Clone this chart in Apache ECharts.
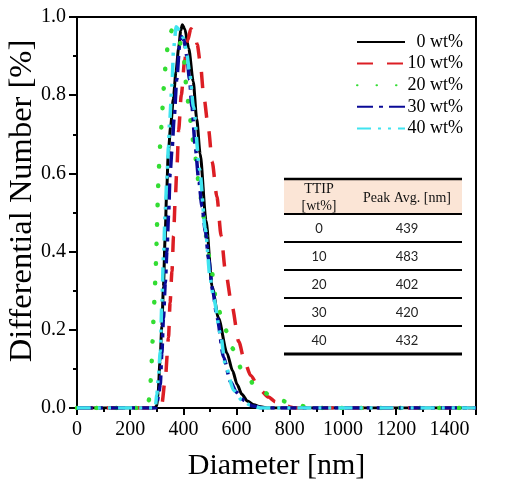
<!DOCTYPE html>
<html>
<head>
<meta charset="utf-8">
<script src="https://cdn.jsdelivr.net/npm/echarts@6/dist/echarts.min.js"></script>
<style>
html,body{margin:0;padding:0;background:#fff;}
#chart{width:525px;height:495px;}
</style>
</head>
<body>
<div id="chart"></div>
<script>
// Series names
const seriesNames = ['0 wt%', '10 wt%', '20 wt%', '30 wt%', '40 wt%'];

// 0 wt%
const d0 = [0, 290, 300, 305, 312, 319, 325, 331, 337, 343, 352, 362, 372, 382, 390, 396, 405, 420, 437, 450, 463, 485, 508, 532, 564, 585, 602, 620, 640, 665, 690, 720, 1500];
const v0 = [0, 0, 0.005, 0.04, 0.12, 0.21, 0.31, 0.43, 0.55, 0.65, 0.72, 0.79, 0.86, 0.92, 0.965, 0.98, 0.97, 0.92, 0.835, 0.74, 0.65, 0.48, 0.31, 0.23, 0.14, 0.095, 0.06, 0.035, 0.018, 0.008, 0.003, 0, 0];

// 10 wt%
const d10 = [0, 312, 319, 332, 344, 350, 357, 363, 369, 376, 382, 392, 405, 416, 428, 440, 452, 464, 476, 495, 508, 526, 542, 558, 583, 608, 630, 652, 690, 720, 746, 780, 820, 1500];
const v10 = [0, 0, 0.01, 0.077, 0.18, 0.27, 0.35, 0.44, 0.53, 0.62, 0.71, 0.80, 0.89, 0.94, 0.97, 0.96, 0.93, 0.88, 0.80, 0.71, 0.63, 0.54, 0.44, 0.35, 0.26, 0.17, 0.12, 0.084, 0.045, 0.028, 0.016, 0.006, 0, 0];

// 20 wt%
const d20 = [0, 262, 270, 276, 280, 284, 288, 292, 296, 299, 302, 304, 307, 311, 316, 320, 324, 329, 336, 345, 362, 382, 401, 410, 422, 434, 445, 457, 470, 485, 501, 527, 558, 583, 621, 683, 759, 828, 880, 1500];
const v20 = [0, 0, 0.02, 0.06, 0.11, 0.17, 0.23, 0.29, 0.36, 0.42, 0.49, 0.55, 0.60, 0.66, 0.71, 0.75, 0.80, 0.85, 0.90, 0.955, 0.97, 0.945, 0.90, 0.83, 0.76, 0.69, 0.64, 0.58, 0.52, 0.44, 0.37, 0.26, 0.20, 0.153, 0.097, 0.046, 0.02, 0.008, 0, 0];

// 30 wt%
const d30 = [0, 296, 300, 306, 313, 319, 325, 332, 338, 344, 350, 357, 365, 375, 386, 393, 402, 413, 423, 432, 445, 458, 470, 483, 495, 510, 527, 551, 577, 600, 627, 660, 700, 1500];
const v30 = [0, 0, 0.01, 0.03, 0.06, 0.14, 0.23, 0.32, 0.40, 0.49, 0.60, 0.66, 0.74, 0.84, 0.93, 0.95, 0.94, 0.90, 0.84, 0.77, 0.665, 0.58, 0.515, 0.45, 0.38, 0.30, 0.23, 0.13, 0.067, 0.04, 0.02, 0.005, 0, 0];

// 40 wt%
const d40 = [0, 294, 300, 306, 313, 319, 325, 332, 338, 344, 348, 357, 363, 373, 388, 401, 412, 423, 438, 461, 482, 501, 514, 539, 558, 589, 620, 650, 690, 1500];
const v40 = [0, 0, 0.033, 0.08, 0.144, 0.27, 0.387, 0.51, 0.59, 0.67, 0.73, 0.826, 0.92, 0.975, 0.965, 0.945, 0.91, 0.86, 0.77, 0.61, 0.46, 0.33, 0.28, 0.19, 0.11, 0.045, 0.02, 0.008, 0, 0];

// Inset table
const tableHeader = [['TTIP', '[wt%]'], ['Peak Avg. [nm]']];
const ttipValues = ['0', '10', '20', '30', '40'];
const peakAvg = ['439', '483', '402', '420', '432'];

// Axis titles
const xTitle = 'Diameter [nm]';
const yTitle = 'Differential Number [%]';

const xs = [d0, d10, d20, d30, d40];
const ys = [v0, v10, v20, v30, v40];
const colors = ['#000000', '#dc1e24', '#33dd33', '#0a0a96', '#40e4f0'];
const dashes = ['solid', [16, 14], [0.5, 19], [16, 6, 4, 6], [14, 7, 3, 7, 3, 7]];
const caps = ['butt', 'butt', 'round', 'butt', 'butt'];
const widths = [3, 3.5, 4.5, 3.5, 3.5];

const serif = 'Liberation Serif';

const series = seriesNames.map((name, k) => ({
  name: name,
  type: 'line',
  symbol: 'none',
  smooth: 0.25,
  smoothMonotone: 'x',
  data: xs[k].map((x, i) => [x, ys[k][i]]),
  lineStyle: { color: colors[k], width: widths[k], type: dashes[k], cap: caps[k] },
  itemStyle: { color: colors[k] },
  z: 2 + k
}));

// table graphics
const tX0 = 284, tX1 = 462, col1 = 319, col2 = 407;
const tTop = 179, headBottom = 214, rowH = 28;
const g = [];
g.push({ type: 'rect', shape: { x: tX0, y: tTop, width: tX1 - tX0, height: headBottom - tTop }, style: { fill: '#fbe5d6' }, z: 10 });
function hline(y, w) {
  g.push({ type: 'rect', shape: { x: tX0, y: y - w / 2, width: tX1 - tX0, height: w }, style: { fill: '#000' }, z: 11 });
}
hline(tTop, 2.5);
hline(headBottom, 2);
ttipValues.forEach((v, i) => {
  const yTop = headBottom + i * rowH;
  const cy = yTop + rowH / 2 + 1;
  g.push({ type: 'text', x: col1, y: cy, style: { text: v, font: '13px Lato', fill: '#222', align: 'center', verticalAlign: 'middle' }, z: 12 });
  g.push({ type: 'text', x: col2, y: cy, style: { text: peakAvg[i], font: '13px Lato', fill: '#222', align: 'center', verticalAlign: 'middle' }, z: 12 });
  hline(yTop + rowH, i === ttipValues.length - 1 ? 3 : 2);
});
g.push({ type: 'text', x: col1, y: 189, style: { text: tableHeader[0][0], font: '14px "Liberation Serif"', fill: '#111', align: 'center', verticalAlign: 'middle' }, z: 12 });
g.push({ type: 'text', x: col1, y: 206, style: { text: tableHeader[0][1], font: '14px "Liberation Serif"', fill: '#111', align: 'center', verticalAlign: 'middle' }, z: 12 });
g.push({ type: 'text', x: col2, y: 198, style: { text: tableHeader[1][0], font: '14px "Liberation Serif"', fill: '#111', align: 'center', verticalAlign: 'middle' }, z: 12 });
// y-axis title
g.push({ type: 'text', x: 22, y: 201, rotation: Math.PI / 2, style: { text: yTitle, font: '32.5px "Liberation Serif"', fill: '#000', align: 'center', verticalAlign: 'middle' }, z: 12 });

const chart = echarts.init(document.getElementById('chart'), null, { renderer: 'canvas' });
chart.setOption({
  animation: false,
  backgroundColor: '#fff',
  grid: { left: 77, right: 49, top: 17, bottom: 87, show: true, borderColor: '#000', borderWidth: 2, containLabel: false, outerBoundsMode: 'none' },
  legend: {
    orient: 'vertical',
    left: 351,
    top: 28,
    itemWidth: 48,
    itemHeight: 14,
    itemGap: 3.6,
    data: seriesNames,
    itemStyle: { color: 'rgba(0,0,0,0)', borderWidth: 0, opacity: 0 },
    formatter: n => '{a|' + n + '}',
    textStyle: {
      rich: { a: { width: 53, align: 'right', fontSize: 18, fontFamily: serif, color: '#000' } }
    }
  },
  xAxis: {
    type: 'value',
    min: 0, max: 1500, interval: 200,
    name: xTitle,
    nameLocation: 'middle',
    nameGap: 43,
    nameTextStyle: { fontFamily: serif, fontSize: 30, color: '#000' },
    axisLine: { show: true, onZero: false, lineStyle: { color: '#000', width: 2 } },
    axisTick: { show: true, length: 7, lineStyle: { color: '#000', width: 2 } },
    minorTick: { show: true, splitNumber: 2, length: 4, lineStyle: { color: '#000', width: 2 } },
    splitLine: { show: false },
    axisLabel: { fontFamily: serif, fontSize: 20, color: '#000', margin: 12, showMaxLabel: false, formatter: v => String(v) }
  },
  yAxis: {
    type: 'value',
    min: 0, max: 1, interval: 0.2,
    axisLine: { show: true, onZero: false, lineStyle: { color: '#000', width: 2 } },
    axisTick: { show: true, length: 8, lineStyle: { color: '#000', width: 2 } },
    minorTick: { show: true, splitNumber: 2, length: 4, lineStyle: { color: '#000', width: 2 } },
    splitLine: { show: false },
    axisLabel: { fontFamily: serif, fontSize: 20, color: '#000', margin: 11, formatter: v => v.toFixed(1) }
  },
  series: series,
  graphic: g
});
</script>
</body>
</html>
